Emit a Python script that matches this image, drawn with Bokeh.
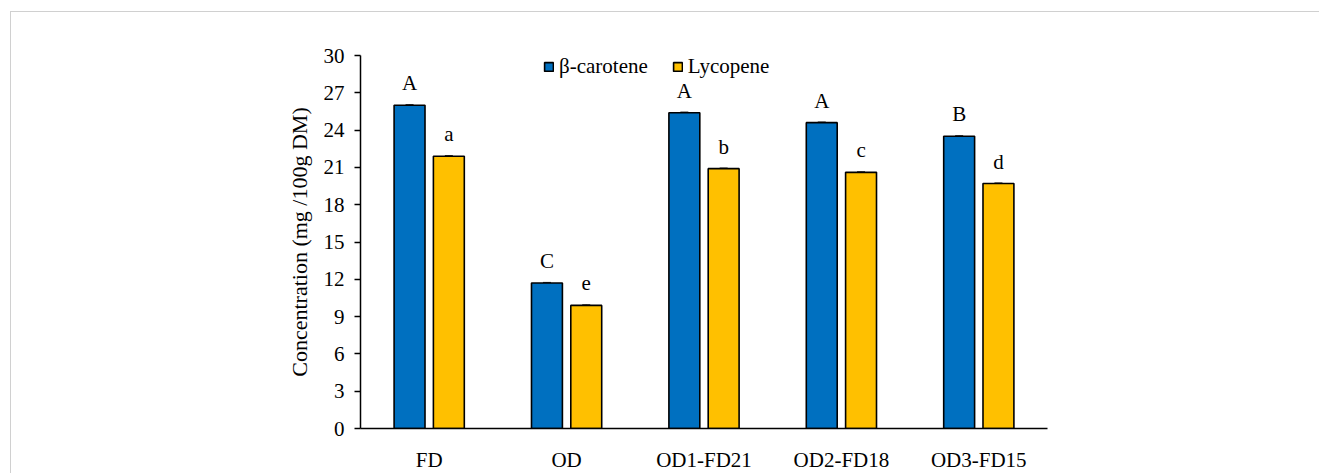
from bokeh.plotting import figure
from bokeh.models import FactorRange, Legend, LegendItem, SingleIntervalTicker, Whisker, ColumnDataSource
from bokeh.transform import dodge
from bokeh.core.properties import value
from bokeh.embed import file_html
from bokeh.resources import INLINE

# Pigment concentrations per drying treatment (mg/100g DM)
categories = ["FD", "OD", "OD1-FD21", "OD2-FD18", "OD3-FD15"]
beta_carotene = [26.0, 11.7, 25.4, 24.6, 23.5]
lycopene = [21.9, 9.9, 20.9, 20.6, 19.7]
beta_sd = [0.05, 0.05, 0.05, 0.05, 0.05]
lyco_sd = [0.05, 0.05, 0.05, 0.05, 0.05]
beta_letters = ["A", "C", "A", "A", "B"]
lyco_letters = ["a", "e", "b", "c", "d"]

BLUE = "#0070C0"
YELLOW = "#FFC000"
FONT = "Liberation Serif"
FS = "21px"

src = ColumnDataSource(dict(
    cat=categories,
    beta=beta_carotene,
    lyco=lycopene,
    beta_lo=[v - s for v, s in zip(beta_carotene, beta_sd)],
    beta_hi=[v + s for v, s in zip(beta_carotene, beta_sd)],
    lyco_lo=[v - s for v, s in zip(lycopene, lyco_sd)],
    lyco_hi=[v + s for v, s in zip(lycopene, lyco_sd)],
    beta_txt=beta_letters,
    lyco_txt=lyco_letters,
))

p = figure(
    x_range=FactorRange(*categories, range_padding=0),
    y_range=(0, 30),
    width=1309, height=462,
    output_backend="svg", toolbar_location=None,
    min_border_left=349, min_border_right=273,
    min_border_top=43, min_border_bottom=36,
)
p.margin = (11, 0, 0, 10)
p.styles = {"border-top": "1px solid #d0d0d0", "border-left": "1px solid #d0d0d0"}
p.outline_line_color = None
p.xgrid.grid_line_color = None
p.ygrid.grid_line_color = None
p.background_fill_color = "white"
p.border_fill_color = "white"

OFF = 0.143
W = 0.225
b1 = p.vbar(x=dodge("cat", -OFF, range=p.x_range), top="beta", width=W, source=src,
            fill_color=BLUE, line_color="black", line_width=1.6)
b2 = p.vbar(x=dodge("cat", OFF, range=p.x_range), top="lyco", width=W, source=src,
            fill_color=YELLOW, line_color="black", line_width=1.6)

for col, lo, hi in ((-OFF, "beta_lo", "beta_hi"), (OFF, "lyco_lo", "lyco_hi")):
    w = Whisker(base=dodge("cat", col, range=p.x_range), lower=lo, upper=hi, source=src,
                line_color="#222222", line_width=1.2)
    w.upper_head.size = 8
    w.lower_head.size = 8
    w.upper_head.line_color = "#222222"
    w.lower_head.line_color = "#222222"
    p.add_layout(w)

# Significance letters above bars
for col, top, txt in ((-OFF, "beta", "beta_txt"), (OFF, "lyco", "lyco_txt")):
    p.text(x=dodge("cat", col, range=p.x_range), y=top, text=txt, source=src,
           text_font=value(FONT), text_font_size=FS, text_color="black",
           text_align="center", text_baseline="alphabetic", y_offset=-22)

# Axes
p.yaxis.ticker = SingleIntervalTicker(interval=3)
p.yaxis.minor_tick_line_color = None
p.yaxis.major_tick_in = 0
p.yaxis.major_tick_out = 6
p.yaxis.axis_line_width = 1.5
p.yaxis.major_tick_line_width = 1.5
p.yaxis.major_label_text_font = FONT
p.yaxis.major_label_text_font_size = FS
p.yaxis.major_label_text_color = "black"
p.yaxis.major_label_standoff = 10
p.yaxis.axis_label = "Concentration (mg /100g DM)"
p.yaxis.axis_label_text_font = FONT
p.yaxis.axis_label_text_font_size = "22px"
p.yaxis.axis_label_text_font_style = "normal"
p.yaxis.axis_label_text_color = "black"
p.yaxis.axis_label_standoff = 9

p.xaxis.major_tick_line_color = None
p.xaxis.minor_tick_line_color = None
p.xaxis.axis_line_width = 1.5
p.xaxis.major_label_text_font = FONT
p.xaxis.major_label_text_font_size = FS
p.xaxis.major_label_text_color = "black"
p.xaxis.major_label_standoff = 13

legend = Legend(
    items=[LegendItem(label="β-carotene", renderers=[b1]),
           LegendItem(label="Lycopene", renderers=[b2])],
    orientation="horizontal", location=(183, 349),
    glyph_width=11, glyph_height=11, label_standoff=5, spacing=24,
    label_height=26, label_width=60,
    padding=0, margin=0, border_line_color=None, background_fill_alpha=0,
)
legend.label_text_font = FONT
legend.label_text_font_size = FS
legend.label_text_color = "black"
legend.label_text_font_style = "normal"
p.add_layout(legend)

open("out.html", "w").write(file_html(p, INLINE))
